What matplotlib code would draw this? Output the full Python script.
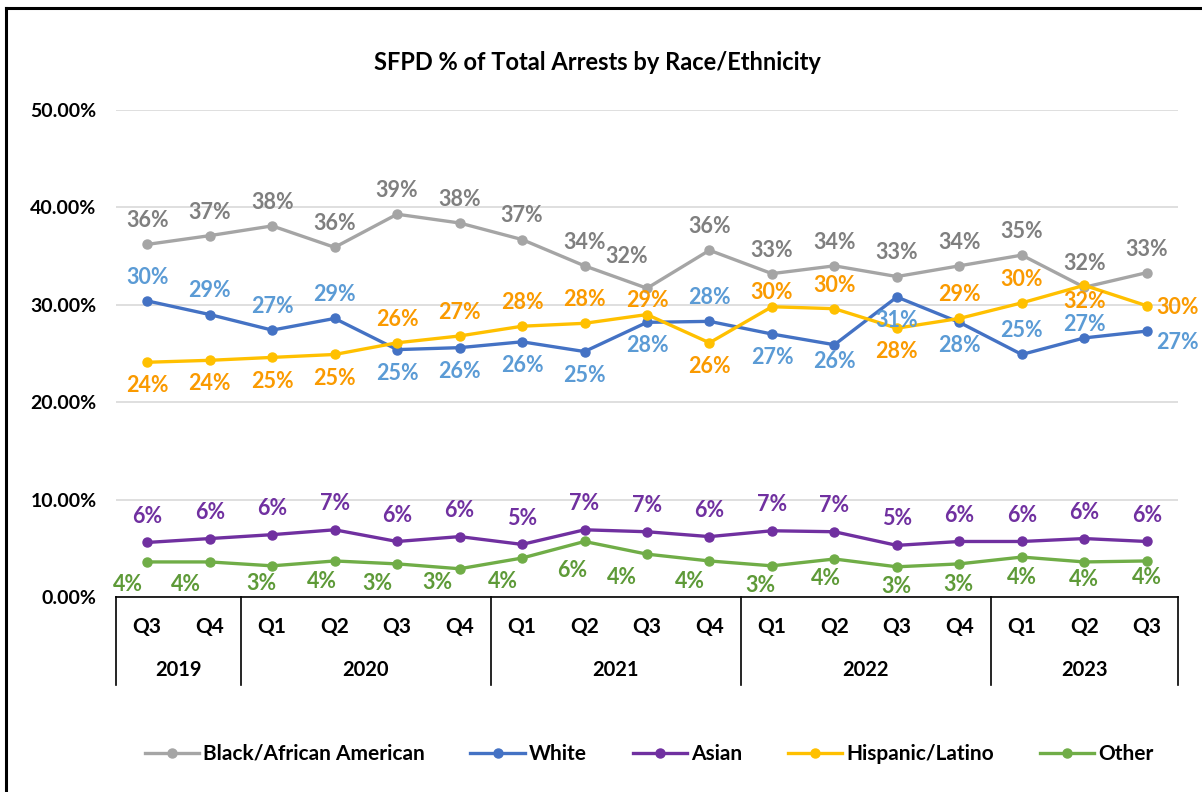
import matplotlib.pyplot as plt
import matplotlib.lines as mlines
import matplotlib.transforms as mtransforms
import numpy as np

plt.rcParams['font.family'] = ['Lato', 'DejaVu Sans']
plt.rcParams['font.weight'] = 'bold'

# data (share of total arrests, %)
quarters = ['Q3', 'Q4', 'Q1', 'Q2', 'Q3', 'Q4', 'Q1', 'Q2', 'Q3', 'Q4',
            'Q1', 'Q2', 'Q3', 'Q4', 'Q1', 'Q2', 'Q3']
years = ['2019', '2020', '2021', '2022', '2023']
year_counts = [2, 4, 4, 4, 3]

black = [36.2, 37.1, 38.1, 35.9, 39.3, 38.4, 36.7, 34.0, 31.7, 35.6,
         33.2, 34.0, 32.9, 34.0, 35.1, 31.8, 33.3]
white = [30.4, 29.0, 27.4, 28.6, 25.4, 25.6, 26.2, 25.2, 28.2, 28.3,
         27.0, 25.9, 30.8, 28.2, 24.9, 26.6, 27.3]
asian = [5.6, 6.0, 6.4, 6.9, 5.7, 6.2, 5.4, 6.9, 6.7, 6.2,
         6.8, 6.7, 5.3, 5.7, 5.7, 6.0, 5.7]
hispanic = [24.1, 24.3, 24.6, 24.9, 26.1, 26.8, 27.8, 28.1, 29.0, 26.1,
            29.8, 29.6, 27.6, 28.6, 30.2, 32.0, 29.9]
other = [3.6, 3.6, 3.2, 3.7, 3.4, 2.9, 4.0, 5.7, 4.4, 3.7,
         3.2, 3.9, 3.1, 3.4, 4.1, 3.6, 3.7]

# label placement: a=above, b=below, r=right
black_pos = ['a'] * 17
white_pos = list('aaaabbbbbabbbbaar')
asian_pos = ['a'] * 17
hisp_pos = list('bbbbaaaaabaabaabr')
other_pos = ['b'] * 17

# the "Other" labels were dragged by hand in the original (points)
other_dx = [-14, -17, -8, -9, -14, -16, -14, -9, -18, -14, -8, -6, 0, -1, 0, 0, 0]
other_dy = [-16.5, -16.5, -13, -15, -14, -10, -17, -21, -17, -15,
            -14, -14, -14, -15, -15, -13, -12]

# a few other hand-nudged labels (points)
nudges = {('Black/African American', 8): (-15, 23),
          ('Hispanic/Latino', 8): (0, 10),
          ('Hispanic/Latino', 10): (0, 10),
          ('Hispanic/Latino', 15): (0, -12),
          ('White', 11): (0, -12),
          ('White', 15): (0, 10),
          ('White', 16): (7, -8),
          ('Hispanic/Latino', 16): (7, -1)}

series = [
    ('Black/African American', black, '#A5A5A5', '#7F7F7F', black_pos),
    ('White', white, '#4472C4', '#5B9BD5', white_pos),
    ('Asian', asian, '#7030A0', '#7030A0', asian_pos),
    ('Hispanic/Latino', hispanic, '#FFC000', '#FA9A00', hisp_pos),
    ('Other', other, '#70AD47', '#5E9A38', other_pos),
]

W, H = 1202, 792
fig = plt.figure(figsize=(W / 100, H / 100), dpi=100)
ax = fig.add_axes([116 / W, 1 - 597 / H, (1178 - 116) / W, (597 - 110) / H])

x = np.arange(len(quarters))
handles = []
for name, vals, col, lcol, pos in series:
    v = np.array(vals) / 100
    h, = ax.plot(x, v, color=col, lw=2.4, marker='o', ms=6.5, label=name, zorder=3)
    handles.append(h)
    for i, (xi, yi, p) in enumerate(zip(x, v, pos)):
        ha = 'center'
        if p == 'a':
            off = (0, 19 if name == 'Asian' else 17)
        elif p == 'b':
            off = (0, -17)
        else:
            off = (7, 0)
        if name == 'Other':
            off = (other_dx[i], other_dy[i])
        if (name, i) in nudges:
            off = nudges[(name, i)]
        if p == 'r':
            ha = 'left'
        ax.annotate('{:.0f}%'.format(yi * 100), (xi, yi), xytext=off,
                    textcoords='offset points', ha=ha, va='center', color=lcol,
                    fontsize=15.5, fontweight='bold', zorder=4)

ax.set_xlim(-0.5, len(quarters) - 0.5)
ax.set_ylim(0, 0.5)
ax.set_yticks(np.arange(0, 0.51, 0.1))
ax.set_yticklabels(['{:.2f}%'.format(t * 100) for t in np.arange(0, 0.51, 0.1)])
ax.tick_params(axis='y', length=0, pad=14, labelsize=14)
ax.set_xticks([])
ax.grid(axis='y', color='#D9D9D9', lw=1.2)
ax.set_axisbelow(True)
for s in ['top', 'right', 'left']:
    ax.spines[s].set_visible(False)
ax.spines['bottom'].set_color('black')
ax.spines['bottom'].set_linewidth(1.2)

# multi-level category axis
trans = mtransforms.blended_transform_factory(ax.transData, ax.transAxes)
ybot = -88 / 487
for xi, q in zip(x, quarters):
    ax.text(xi, -30 / 487, q, transform=trans, ha='center', va='center',
            fontsize=15, fontweight='bold')
edges = np.concatenate([[0], np.cumsum(year_counts)]) - 0.5
for i, yr in enumerate(years):
    ax.text((edges[i] + edges[i + 1]) / 2, -73 / 487, yr, transform=trans,
            ha='center', va='center', fontsize=14.5, fontweight='bold')
for e in edges:
    ax.plot([e, e], [0, ybot], transform=trans, color='black', lw=1.2, clip_on=False)

fig.text(0.497, 1 - 63 / H, 'SFPD % of Total Arrests by Race/Ethnicity',
         ha='center', va='center', fontsize=17, fontweight='bold')

fig.legend(handles=handles, loc='center', bbox_to_anchor=(0.54, 1 - 754 / H),
           ncol=5, frameon=False, fontsize=15, handlelength=2.6,
           columnspacing=2.2, handletextpad=0.2)

# chart border (left and top visible)
fig.add_artist(mlines.Line2D([6 / W, 6 / W], [0, 1 - 8 / H], color='black', lw=2.2))
fig.add_artist(mlines.Line2D([6 / W, 1], [1 - 8 / H, 1 - 8 / H], color='black', lw=2.2))

fig.savefig('out.png', dpi=100)
